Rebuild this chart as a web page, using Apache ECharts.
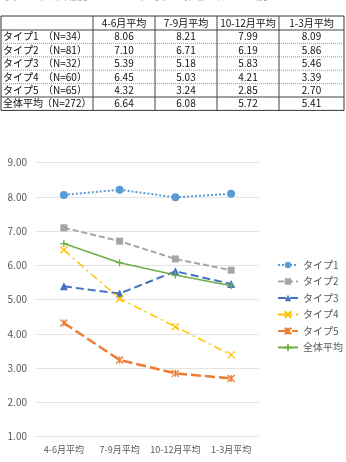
<!DOCTYPE html>
<html>
<head>
<meta charset="utf-8">
<script src="https://cdn.jsdelivr.net/npm/echarts@6/dist/echarts.min.js"></script>
<style>
html, body { margin: 0; padding: 0; background: #fff; }
#echart { width: 346px; height: 462px; }
</style>
</head>
<body>
<div id="echart"></div>
<script>
var categories = ['4-6月平均', '7-9月平均', '10-12月平均', '1-3月平均'];
var seriesNames = ['タイプ1', 'タイプ2', 'タイプ3', 'タイプ4', 'タイプ5', '全体平均'];
var groupSizes = ['（N=34）', '（N=81）', '（N=32）', '（N=60）', '（N=65）', '（N=272）'];
var type1 = [8.06, 8.21, 7.99, 8.09];
var type2 = [7.10, 6.71, 6.19, 5.86];
var type3 = [5.39, 5.18, 5.83, 5.46];
var type4 = [6.45, 5.03, 4.21, 3.39];
var type5 = [4.32, 3.24, 2.85, 2.70];
var overall = [6.64, 6.08, 5.72, 5.41];
var allValues = [type1, type2, type3, type4, type5, overall];

var font = '"Noto Sans CJK JP", sans-serif';

// 上の表 (graphic)
var colX = [1, 93, 155, 217, 279, 344];
var rowY = [16, 30];
for (var r = 1; r <= 6; r++) rowY.push(30 + r * 13.4);
var tbl = [];
tbl.push({ type: 'text', x: 4, y: -11, style: { text: '表３　四半期別のレベル平均値の推移（タイプ別）', fill: '#aaa', font: '12px ' + font } });
tbl.push({ type: 'rect', shape: { x: colX[0], y: rowY[0], width: colX[5] - colX[0], height: rowY[7] - rowY[0] }, style: { fill: 'none', stroke: '#333', lineWidth: 1 } });
for (var i = 1; i < 7; i++) {
    tbl.push({ type: 'line', shape: { x1: colX[0], y1: rowY[i], x2: colX[5], y2: rowY[i] },
        style: { stroke: (i === 1 || i === 6) ? '#444' : '#999', lineWidth: 1, lineDash: (i === 1 || i === 6) ? null : [1, 1] } });
}
for (var c = 1; c < 5; c++) {
    tbl.push({ type: 'line', shape: { x1: colX[c], y1: rowY[0], x2: colX[c], y2: rowY[7] }, style: { stroke: '#444', lineWidth: 1 } });
}
for (var c = 0; c < 4; c++) {
    tbl.push({ type: 'text', x: (colX[c + 1] + colX[c + 2]) / 2, y: (rowY[0] + rowY[1]) / 2,
        style: { text: categories[c], fill: '#111', font: '10px ' + font, align: 'center', verticalAlign: 'middle' } });
}
for (var r = 0; r < 6; r++) {
    var cy = (rowY[r + 1] + rowY[r + 2]) / 2;
    tbl.push({ type: 'text', x: 3, y: cy, style: { text: seriesNames[r], fill: '#111', font: '10px ' + font, verticalAlign: 'middle' } });
    tbl.push({ type: 'text', x: r === 5 ? 42 : 43, y: cy, style: { text: groupSizes[r], fill: '#111', font: '10px ' + font, verticalAlign: 'middle' } });
    for (var c = 0; c < 4; c++) {
        tbl.push({ type: 'text', x: (colX[c + 1] + colX[c + 2]) / 2, y: cy,
            style: { text: allValues[r][c].toFixed(2), fill: '#111', font: '10px ' + font, align: 'center', verticalAlign: 'middle' } });
    }
}

var colors = ['#5B9BD5', '#A5A5A5', '#4472C4', '#FFC000', '#ED7D31', '#70AD47'];
var symbols = ['circle', 'rect', 'triangle',
    'path://M0,0L10,10M10,0L0,10',
    'path://M0,0L10,10M10,0L0,10M5,0L5,10',
    'path://M5,0L5,10M0,5L10,5'];
var symbolSizes = [8, 7, 8, 7, 7, 7];
var dashes = [[2, 2], [6, 3], [8, 4], [8, 4, 2, 4], [10, 4], 'solid'];
var widths = [2, 2, 2, 1.5, 2.5, 1.5];

var series = [];
for (var k = 0; k < 6; k++) {
    series.push({
        name: seriesNames[k],
        type: 'line',
        data: allValues[k],
        symbol: symbols[k],
        symbolSize: symbolSizes[k],
        showAllSymbol: true,
        lineStyle: { color: colors[k], width: widths[k], type: dashes[k] },
        itemStyle: { color: k >= 3 ? 'rgba(0,0,0,0)' : colors[k], borderColor: colors[k], borderWidth: k >= 3 ? 1.3 : 0 },
        emphasis: { disabled: true }
    });
}

var myChart = echarts.init(document.getElementById('echart'));
var option = {
    animation: false,
    color: colors,
    grid: { left: 36, right: 87, top: 162.7, bottom: 25.3 },
    legend: {
        orient: 'vertical',
        left: 272,
        top: 254,
        itemWidth: 20,
        itemHeight: 8,
        itemGap: 4.5,
        textStyle: { color: '#595959', fontSize: 10, fontFamily: font, lineHeight: 12 },
        data: seriesNames
    },
    xAxis: {
        type: 'category',
        data: categories,
        axisLine: { show: false },
        axisTick: { show: false },
        axisLabel: { color: '#595959', fontSize: 9, fontFamily: font, margin: 8, interval: 0 }
    },
    yAxis: {
        type: 'value',
        min: 1,
        max: 9,
        interval: 1,
        axisLabel: { color: '#595959', fontSize: 10, fontFamily: font, margin: 9,
            formatter: function (v) { return v.toFixed(2); } },
        splitLine: { lineStyle: { color: '#E3E3E3' } }
    },
    graphic: tbl,
    series: series
};
myChart.setOption(option);
window.onresize = myChart.resize;
</script>
</body>
</html>
